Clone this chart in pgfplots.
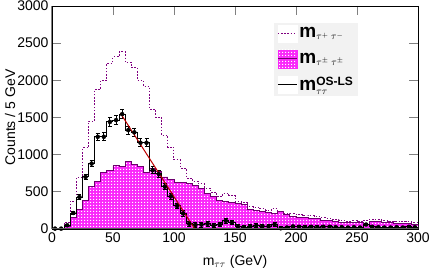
\documentclass[border=0pt]{standalone}
\usepackage{fontspec}
\setmainfont{Liberation Sans}
\usepackage{pgfplots}
\pgfplotsset{compat=1.18}
\usepackage{pgfplotstable}
\usetikzlibrary{patterns}

\pgfdeclarepatternformonly{wdots}{\pgfpointorigin}{\pgfpoint{3pt}{3pt}}{\pgfpoint{3pt}{3pt}}{%
  \pgfpathrectangle{\pgfpointorigin}{\pgfpoint{1.4pt}{1.4pt}}%
  \pgfusepath{fill}}

\definecolor{osline}{RGB}{128,0,128}
\definecolor{lsline}{RGB}{110,0,110}
\definecolor{fitred}{RGB}{190,0,0}
\definecolor{leggray}{RGB}{242,242,242}
\definecolor{pinkfill}{RGB}{250,40,250}

\pgfplotstableread{
x xc ls d os e
0 2.5 0 5 5 2
5 7.5 0 5 5 2
10 12.5 35 50 85 11
15 17.5 160 215 375 23
20 22.5 260 430 690 31
25 27.5 390 700 1090 38
30 32.5 570 880 1450 45
35 37.5 640 1240 1880 50
40 42.5 760 1240 2000 53
45 47.5 790 1440 2230 55
50 52.5 850 1465 2315 56
55 57.5 840 1545 2385 57
60 62.5 910 1330 2240 56
65 67.5 870 1300 2170 55
70 72.5 840 1160 2000 53
75 77.5 760 1160 1920 52
80 82.5 820 790 1610 49
85 87.5 780 740 1500 48
90 92.5 700 570 1260 44
95 97.5 660 440 1100 42
100 102.5 630 310 930 40
105 107.5 620 210 820 38
110 112.5 615 70 685 36
115 117.5 590 55 645 35
120 122.5 550 60 610 34
125 127.5 480 70 550 32
130 132.5 440 50 490 30
135 137.5 380 60 440 29
140 142.5 370 110 480 29
145 147.5 360 90 450 29
150 152.5 340 30 370 27
155 157.5 330 25 355 26
160 162.5 260 40 300 24
165 167.5 250 45 295 23
170 172.5 235 40 275 22
175 177.5 220 35 255 22
180 182.5 215 60 275 22
185 187.5 230 10 240 22
190 192.5 190 20 210 20
195 197.5 170 35 205 19
200 202.5 160 30 190 19
205 207.5 150 25 175 18
210 212.5 145 30 175 18
215 217.5 140 25 165 17
220 222.5 120 30 150 16
225 227.5 112 30 142 16
230 232.5 105 25 130 15
235 237.5 90 25 115 14
240 242.5 85 20 105 14
245 247.5 85 25 110 14
250 252.5 82 20 102 13
255 257.5 60 60 120 13
260 262.5 100 30 130 15
265 267.5 98 25 123 15
270 272.5 90 20 110 14
275 277.5 82 20 102 13
280 282.5 80 25 105 14
285 287.5 78 20 98 13
290 292.5 68 30 98 13
295 297.5 65 25 90 12
300 302.5 65 25 90 12
}\datatable

\begin{document}
\begin{tikzpicture}
\useasboundingbox (-52pt,-43pt) rectangle (384pt,229pt);
\begin{axis}[
  at={(0,0)}, anchor=south west,
  scale only axis, width=366pt, height=223pt,
  xmin=0, xmax=300, ymin=0, ymax=3000,
  xtick={0,50,...,300}, ytick={0,500,...,3000},
  minor tick num=0,
  tick align=inside, major tick length=9pt,
  tick style={draw=gray, line width=0.8pt},
  axis line style={black, line width=0.8pt},
  scaled ticks=false,
  /pgf/number format/assume math mode=true,
  /pgf/number format/1000 sep={},
  tick label style={font=\fontsize{14}{16}\selectfont},
  xlabel={m$_{\tau\tau}$ (GeV)},
  ylabel={Counts / 5 GeV},
  every axis x label/.style={at={(rel axis cs:0.5,0)}, anchor=center, yshift=-33pt,
    font=\fontsize{14}{16}\selectfont},
  every axis y label/.style={at={(rel axis cs:0,0.5)}, anchor=center, xshift=-42pt,
    rotate=90, font=\fontsize{14}{16}\selectfont},
  legend style={at={(rel axis cs:0.607,0.924)}, anchor=north west,
    fill=leggray, draw=none, inner xsep=3pt, inner ysep=2pt, row sep=7pt,
    font=\fontsize{14}{16}\selectfont},
  legend cell align=left,
  after end axis/.code={
    \draw[gray, line width=1pt] (rel axis cs:0,0) -- (rel axis cs:0,1);
    \draw[gray!70!black, line width=1pt] (rel axis cs:0,0) -- (rel axis cs:1,0);
  },
]
\addplot[const plot, draw=lsline, line width=0.9pt, fill=pinkfill,
  postaction={pattern=wdots, pattern color=white}, forget plot]
  table[x=x, y=ls] {\datatable} \closedcycle;
\addplot[const plot, draw=osline, line width=1pt, dash pattern=on 1.6pt off 1.6pt, forget plot]
  table[x=x, y=os] {\datatable};
\addplot[const plot, black, line width=1pt, forget plot]
  table[x=x, y=d] {\datatable};
\addplot[black, only marks, mark=none, forget plot,
  error bars/.cd, y dir=both, y explicit,
  error bar style={black, line width=0.9pt},
  error mark options={black, mark size=2pt, line width=0.9pt, rotate=90}]
  table[x=xc, y=d, y error=e] {\datatable};
\addplot[fitred, line width=1pt, forget plot] coordinates {(56,1560) (117,0)};

\addlegendimage{legend image code/.code={
  \fill[white] (0pt,-9pt) rectangle (19pt,8pt);
  \draw[osline, line width=0.9pt, dash pattern=on 1.6pt off 1.6pt] (0pt,0pt) -- (19pt,0pt);}}
\addlegendentry{\textbf{\fontsize{19}{20}\selectfont m}$_{\tau^{+}\;\tau^{-}}$}
\addlegendimage{legend image code/.code={
  \fill[pinkfill, postaction={pattern=wdots, pattern color=white}] (0pt,-9pt) rectangle (19pt,9pt);
  \draw[lsline, line width=1pt] (0pt,0pt) -- (19pt,0pt);}}
\addlegendentry{\textbf{\fontsize{19}{20}\selectfont m}$_{\tau^{\pm}\;\tau^{\pm}}$}
\addlegendimage{legend image code/.code={
  \fill[white] (0pt,-9pt) rectangle (19pt,8pt);
  \draw[black, line width=1pt] (0pt,0pt) -- (19pt,0pt);}}
\addlegendentry{\textbf{\fontsize{19}{20}\selectfont m}$_{\tau\tau}^{\mbox{\fontsize{12}{12}\selectfont\bfseries OS-LS}}$}
\end{axis}
\end{tikzpicture}
\end{document}
